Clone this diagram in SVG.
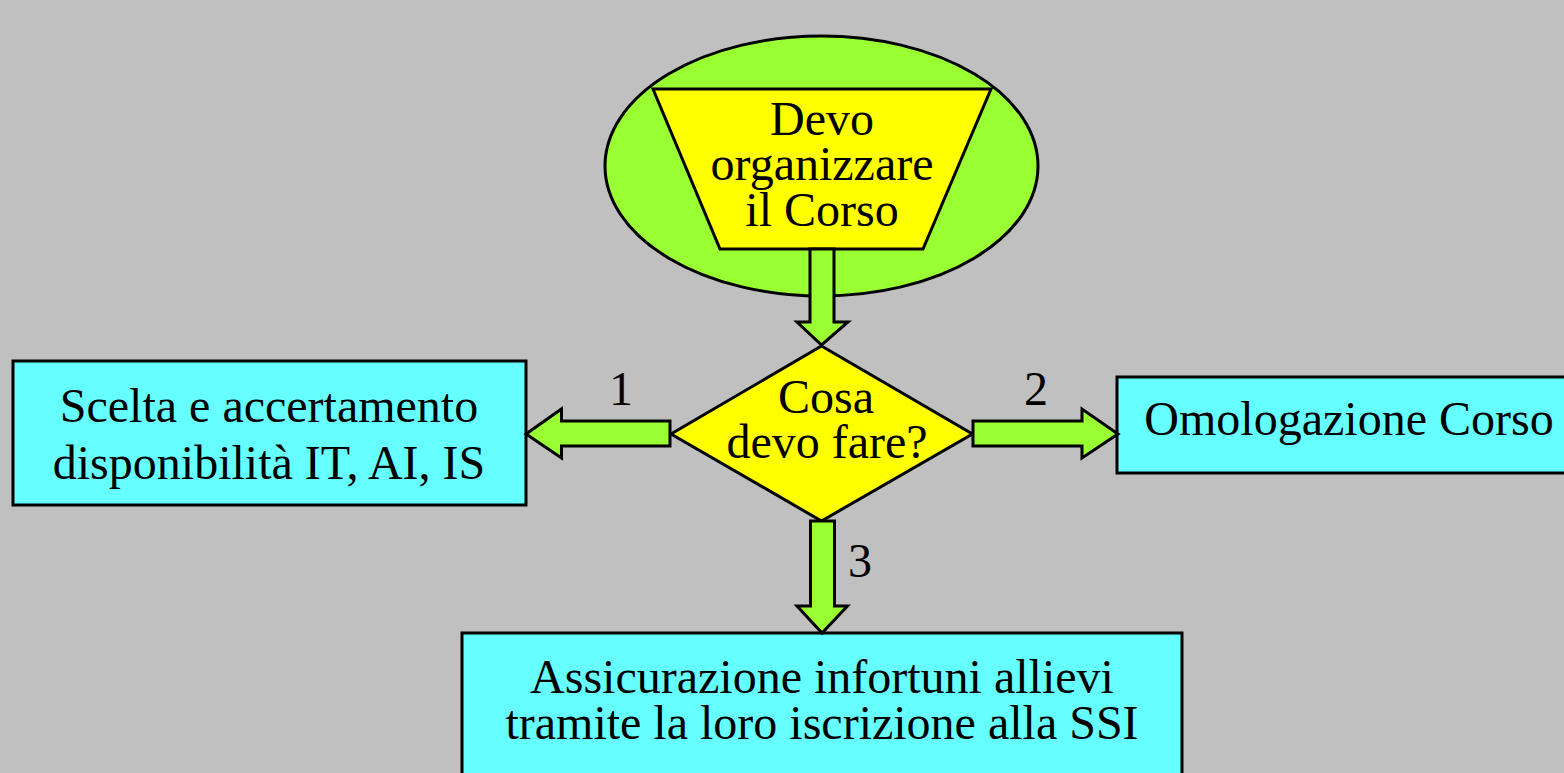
<svg xmlns="http://www.w3.org/2000/svg" width="1564" height="773" viewBox="0 0 1564 773">
<style>
.t{font-family:"Liberation Serif","Times New Roman",serif;font-size:48px;fill:#000;text-anchor:middle}
.box{fill:#66FFFF;stroke:#000;stroke-width:3}
.arr{fill:#99FF33;stroke:#000;stroke-width:3;stroke-linejoin:miter}
</style>
<rect x="0" y="0" width="1564" height="773" fill="#C0C0C0"/>
<g id="start">
<ellipse cx="821.5" cy="166" rx="216.5" ry="130" fill="#99FF33" stroke="#000" stroke-width="3"/>
<polygon points="653,89 991,89 923,249 720,249" fill="#FFFF00" stroke="#000" stroke-width="3"/>
<text class="t" x="822" y="135">Devo</text>
<text class="t" x="822" y="180">organizzare</text>
<text class="t" x="822" y="226">il Corso</text>
</g>
<g id="decision">
<polygon points="821.5,346 972.5,434 821.5,521 671,434" fill="#FFFF00" stroke="#000" stroke-width="3"/>
<text class="t" x="826" y="413">Cosa</text>
<text class="t" x="827" y="458">devo fare?</text>
</g>
<g id="box1">
<rect class="box" x="13" y="361" width="513" height="144"/>
<text class="t" x="269" y="422">Scelta e accertamento</text>
<text class="t" x="269" y="479">disponibilità IT, AI, IS</text>
</g>
<g id="box2">
<rect class="box" x="1117" y="377" width="460" height="96"/>
<text class="t" x="1349" y="435">Omologazione Corso</text>
</g>
<g id="box3">
<rect class="box" x="462" y="633" width="720" height="160"/>
<text class="t" x="822" y="693">Assicurazione infortuni allievi</text>
<text class="t" x="822" y="739">tramite la loro iscrizione alla SSI</text>
</g>
<g id="connectors">
<polygon class="arr" points="810,249 834,249 834,322 848,322 821.5,345 797,322 810,322"/>
<polygon class="arr" points="670,421 561.5,421 561.5,409 526,434 561.5,458 561.5,446 670,446"/>
<polygon class="arr" points="973,421 1082,421 1082,409 1118,434 1082,458 1082,446 973,446"/>
<polygon class="arr" points="810.5,521 834.5,521 834.5,606 847.5,606 822,633 797,606 810.5,606"/>
<text class="t" x="621" y="405">1</text>
<text class="t" x="1036" y="405">2</text>
<text class="t" x="860" y="577">3</text>
</g>
</svg>
